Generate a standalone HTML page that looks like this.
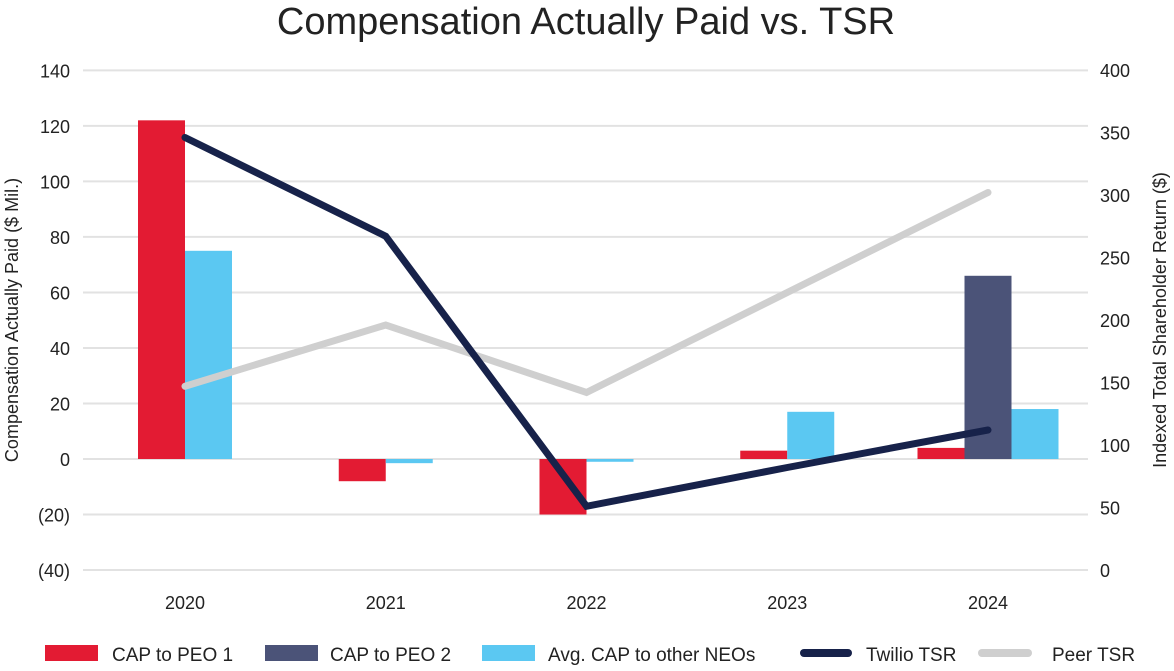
<!DOCTYPE html>
<html><head><meta charset="utf-8"><style>
body{margin:0;background:#fff;font-family:"Liberation Sans",sans-serif;}
svg text{font-family:"Liberation Sans",sans-serif;fill:#222;}
</style></head><body>
<svg id="c" width="1174" height="666">
<text x="586" y="34" font-size="38" text-anchor="middle">Compensation Actually Paid vs. TSR</text>
<g id="grid"></g><g id="bars"></g><g id="lines"></g><g id="axes"></g>
<text transform="translate(18,320) rotate(-90)" font-size="18" text-anchor="middle">Compensation Actually Paid ($ Mil.)</text>
<text transform="translate(1166,320) rotate(-90)" font-size="18" text-anchor="middle">Indexed Total Shareholder Return ($)</text>
<g>
<rect x="45" y="645" width="53" height="16" fill="#e31b33"/>
<text x="112" y="661" font-size="19">CAP to PEO 1</text>
<rect x="265" y="645" width="53" height="16" fill="#4b5378"/>
<text x="330" y="661" font-size="19">CAP to PEO 2</text>
<rect x="482" y="645" width="53" height="16" fill="#5bc8f2"/>
<text x="548" y="661" font-size="19">Avg. CAP to other NEOs</text>
<line x1="804" y1="653" x2="848" y2="653" stroke="#17224a" stroke-width="8" stroke-linecap="round"/>
<text x="866" y="661" font-size="19">Twilio TSR</text>
<line x1="982" y1="653" x2="1028" y2="653" stroke="#cfcfcf" stroke-width="8" stroke-linecap="round"/>
<text x="1052" y="661" font-size="19">Peer TSR</text>
</g>
</svg>
<script>
const years=["2020","2021","2022","2023","2024"];
const peo1=[122,-8,-20,3,4];
const peo2=[null,null,null,null,66];
const neos=[75,-1.5,-1,17,18];
const twilio=[346,267,51,82,112];
const peer=[147,196,142,222,302];
const leftTicks=[140,120,100,80,60,40,20,0,-20,-40];
const rightTicks=[400,350,300,250,200,150,100,50,0];
const NS="http://www.w3.org/2000/svg";
function yL(v){return 459-v*2.776;}
function yR(v){return 570-v*1.25;}
function xC(i){return 185+i*200.75;}
function mk(tag,attrs,parent,txt){const e=document.createElementNS(NS,tag);for(const k in attrs)e.setAttribute(k,attrs[k]);if(txt!==undefined)e.textContent=txt;document.getElementById(parent).appendChild(e);return e;}
leftTicks.forEach(t=>{
 const g=mk('line',{x1:83,x2:1088,y1:yL(t),y2:yL(t),stroke:'#e2e2e2','stroke-width':2},'grid');
 
 
 const l=mk('text',{x:70,y:yL(t)+7,'font-size':18,'text-anchor':'end'},'axes',t<0?'('+(-t)+')':String(t));
 
 
});
rightTicks.forEach(t=>{
 const l=mk('text',{x:1100,y:yR(t)+7,'font-size':18},'axes',String(t));
 
 
});
years.forEach((y,i)=>{
 const l=mk('text',{x:xC(i),y:609,'font-size':18,'text-anchor':'middle'},'axes',y);
 
 
 const series=[[peo1[i],'#e31b33','bar-peo1'],[peo2[i],'#4b5378','bar-peo2'],[neos[i],'#5bc8f2','bar-neos']].filter(s=>s[0]!==null);
 const w=47,start=xC(i)-series.length*w/2;
 series.forEach((s,j)=>{
  const y0=yL(0),y1=yL(s[0]);
  const r=mk('rect',{x:start+j*w,y:Math.min(y0,y1),width:w,height:Math.abs(y1-y0),fill:s[1]},'bars');
  
  
 });
});
function line(vals,color,name){
 const p=mk('polyline',{points:vals.map((v,i)=>xC(i)+','+yR(v)).join(' '),fill:'none',stroke:color,'stroke-width':7,'stroke-linejoin':'miter','stroke-linecap':'round'},'lines');
 
 
}
line(peer,'#cfcfcf','peer-tsr-line');
line(twilio,'#17224a','twilio-tsr-line');
</script>
</body></html>
